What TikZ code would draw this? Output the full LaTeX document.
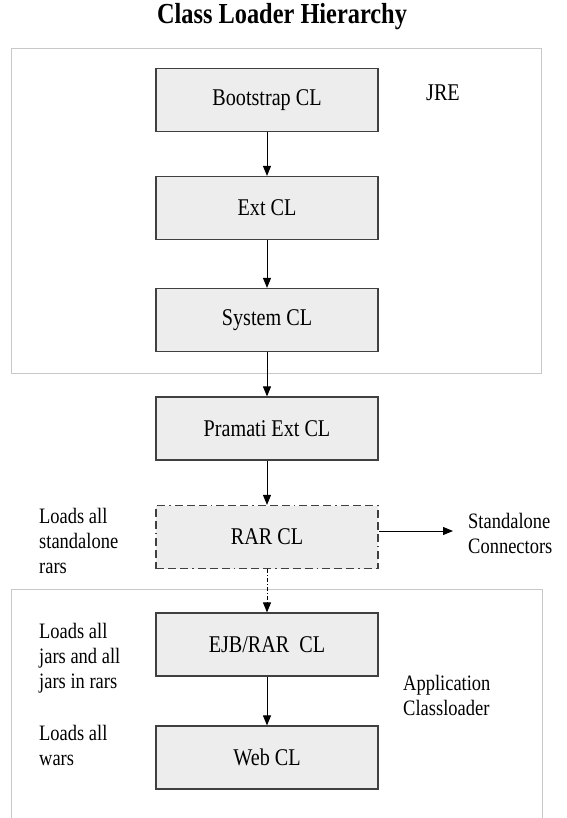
\documentclass[tikz,border=0pt]{standalone}
\usepackage{fontspec}
\setmainfont{Liberation Serif}[FakeStretch=0.84]
\usetikzlibrary{arrows.meta}
\definecolor{boxfill}{HTML}{EDEDED}
\definecolor{boxline}{HTML}{404040}
\definecolor{frameline}{HTML}{C8C8C8}
\tikzset{
  clbox/.style={draw=boxline, fill=boxfill, line width=1.2pt, minimum width=222pt, minimum height=63pt, inner sep=0pt, font=\fontsize{24}{26}\selectfont},
  dashbox/.style={clbox, dash pattern=on 8pt off 4pt on 8pt off 4pt on 8pt off 4pt on 1.5pt off 4pt},
  frame/.style={draw=frameline, line width=1pt},
  note/.style={inner sep=0pt, align=left, anchor=west, font=\fontsize{22}{25}\selectfont},
  arr/.style={draw=black, line width=1pt, -{Triangle[length=10pt,width=8pt]}},
  darr/.style={arr, dash pattern=on 4pt off 2pt on 1pt off 2pt},
}
\begin{document}
\begin{tikzpicture}[x=1pt,y=-1pt]
\useasboundingbox (0,0) rectangle (566,818);
\fill[white] (0,0) rectangle (566,818);
\node[inner sep=0pt, font=\fontsize{29}{31}\selectfont\bfseries] (title) at (282,17) {Class Loader Hierarchy};
% containers
\draw[frame] (11,49) rectangle (541,373);
\draw[frame] (11,818) -- (11,589) -- (542,589) -- (542,818);
% boxes
\node[clbox] (boot) at (267,100) {Bootstrap CL};
\node[clbox] (ext) at (267,208) {Ext CL};
\node[clbox] (sys) at (267,320) {System CL};
\node[clbox] (pram) at (267,428.5) {Pramati Ext CL};
\node[dashbox] (rar) at (267,537) {RAR CL};
\node[clbox] (ejb) at (267,644.5) {EJB/RAR~~CL};
\node[clbox] (web) at (267,757.5) {Web CL};
% labels
\node[inner sep=0pt, font=\fontsize{24}{26}\selectfont] (jre) at (443,93) {JRE};
\node[note] (stand) at (468,533) {Standalone\\Connectors};
\node[note] (app) at (403,695) {Application\\Classloader};
\node[note] (n1) at (39,541) {Loads all\\standalone\\rars};
\node[note] (n2) at (39,658) {Loads all\\jars and all\\jars in rars};
\node[note] (n3) at (39,745) {Loads all\\wars};
% arrows
\draw[arr] (boot) -- (ext);
\draw[arr] (ext) -- (sys);
\draw[arr] (sys) -- (pram);
\draw[arr] (pram) -- (rar);
\draw[darr] (rar) -- (ejb);
\draw[arr] (ejb) -- (web);
\coordinate (sc) at (453,531);
\draw[arr] (rar.east |- sc) -- (sc);
\end{tikzpicture}
\end{document}
